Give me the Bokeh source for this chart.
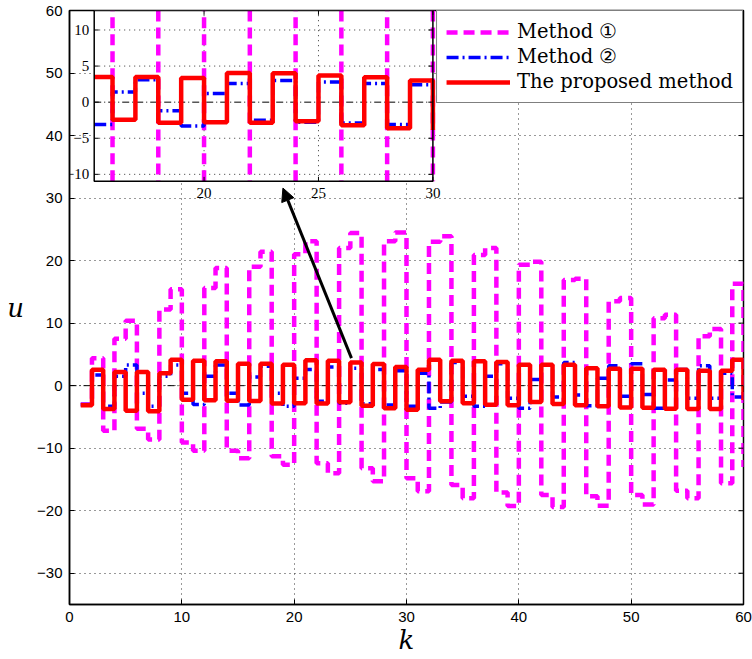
import numpy as np
from bokeh.plotting import figure
from bokeh.models import Range1d, FixedTicker, Arrow, NormalHead, Span
from bokeh.embed import file_html
from bokeh.resources import INLINE

# ---------------- data ----------------
k = list(range(1, 61))

u_method1 = [-3.0, 4.4, -7.2, 7.5, 10.4, -6.9, -8.6, 12.2, 15.4, -9.1,
             -10.4, 15.6, 18.8, -10.4, -11.6, 19.0, 21.4, -11.3, -12.65, 21.0,
             23.1, -12.4, -14.0, 22.0, 24.4, -13.2, -15.3, 23.1, 24.5, -14.8,
             -16.9, 23.0, 23.9, -15.9, -18.0, 20.9, 22.0, -17.1, -19.25, 19.35,
             19.8, -17.5, -19.4, 16.9, 17.1, -17.7, -19.2, 13.5, 14.0, -17.5,
             -19.0, 10.8, 11.35, -16.8, -18.0, 7.9, 9.05, -15.6, 16.3, -13.0]

u_method2 = [-3.0, 1.7, -3.3, 1.5, 3.3, -1.2, -3.3, 1.5, 3.3, -1.2,
             -3.0, 1.5, 3.3, -1.2, -3.1, 1.4, 3.1, -1.2, -3.3, 1.2,
             2.6, -2.5, 3.0, -2.8, 2.8, -2.9, 2.6, -3.1, 2.4, -3.3,
             2.0, -3.6, -2.6, 3.7, -1.7, -3.3, 1.5, 3.5, -2.0, -3.6,
             1.0, 3.3, -1.8, 3.7, -1.5, -3.2, 1.2, 3.2, -1.7, 3.5,
             -1.4, -3.6, 0.9, 2.6, -2.0, 3.2, -2.0, 2.0, -1.8, -2.0]

u_proposed = [-3.15, 2.55, -3.75, 2.2, -4.0, 2.2, -4.1, 2.0, 4.15, -2.25,
              4.0, -2.35, 3.9, -2.4, 3.5, -2.45, 3.5, -2.85, 3.35, -2.8,
              4.05, -2.85, 4.0, -2.65, 3.7, -3.2, 3.45, -3.6, 3.0, -3.85,
              2.55, 4.15, -2.5, 4.0, -2.8, 3.9, -3.05, 3.8, -3.15, 3.35,
              -2.6, 3.35, -2.95, 3.35, -3.15, 2.8, -3.3, 2.7, -3.5, 2.7,
              -3.55, 2.55, -3.7, 2.55, -3.75, 2.4, -3.75, 2.4, 4.15, -2.3]

x_ticks = [0, 10, 20, 30, 40, 50, 60]
y_ticks = [-30, -20, -10, 0, 10, 20, 30, 40, 50, 60]
inset_x_ticks = [20, 25, 30]
inset_y_ticks = [-10, -5, 0, 5, 10]

# axis limits
x_lim = (0, 60)
y_lim = (-35, 60)
inset_x_lim = (15.2, 30)
inset_y_lim = (-10.95, 12.7)
# where the inset sits, in main-axes data units
inset_target_x = (2.2, 32.35)
inset_target_y = (32.7, 60)

MAGENTA = "#ff00ff"
BLUE = "#0000ff"
RED = "#ff0000"


def lab(v):
    return str(v).replace("-", "\u2212")


def stairs_path(xs, ys):
    px, py = [xs[0]], [ys[0]]
    for i in range(1, len(xs)):
        px += [xs[i], xs[i]]
        py += [ys[i - 1], ys[i]]
    return px, py


def clip_path(px, py, x0, x1, y0, y1):
    ox, oy = [], []
    last = None
    for i in range(len(px) - 1):
        ax, ay, bx, by = px[i], py[i], px[i + 1], py[i + 1]
        if ay == by:
            if not (y0 <= ay <= y1):
                continue
            lo, hi = max(min(ax, bx), x0), min(max(ax, bx), x1)
            if lo > hi:
                continue
            seg = [(lo, ay), (hi, ay)] if ax <= bx else [(hi, ay), (lo, ay)]
        else:
            if not (x0 <= ax <= x1):
                continue
            lo, hi = max(min(ay, by), y0), min(max(ay, by), y1)
            if lo > hi:
                continue
            seg = [(ax, lo), (ax, hi)] if ay <= by else [(ax, hi), (ax, lo)]
        if last is not None and last == seg[0]:
            ox.append(seg[1][0]); oy.append(seg[1][1])
        else:
            if ox:
                ox.append(np.nan); oy.append(np.nan)
            ox += [seg[0][0], seg[1][0]]
            oy += [seg[0][1], seg[1][1]]
        last = seg[1]
    return np.array(ox, dtype=float), np.array(oy, dtype=float)


TICK_FONT = "Liberation Sans"
TICK_SIZE = "15px"
M_WIDTH, M_DASH = 4.5, "11 6"
B_WIDTH, B_DASH = 3.5, "12 4 2 4"
R_WIDTH = 4.5

p = figure(width=752, height=659, output_backend="svg", toolbar_location=None,
           x_range=Range1d(*x_lim), y_range=Range1d(*y_lim),
           min_border_left=69, min_border_right=9, min_border_top=10,
           min_border_bottom=55, background_fill_color="white",
           border_fill_color="white")

p.outline_line_color = "black"
p.outline_line_width = 1.5

for ax in (p.xaxis[0], p.yaxis[0]):
    ax.major_tick_in = 5
    ax.major_tick_out = 0
    ax.minor_tick_in = 0
    ax.minor_tick_out = 0
    ax.axis_line_color = "black"
    ax.axis_line_width = 1.5
    ax.major_label_text_font = TICK_FONT
    ax.major_label_text_font_size = TICK_SIZE
    ax.major_label_text_color = "black"
    ax.major_label_standoff = 7
    ax.axis_label_text_font = "DejaVu Serif"
    ax.axis_label_text_font_style = "italic"
    ax.axis_label_text_font_size = "26px"
    ax.axis_label_text_color = "black"

p.xaxis[0].ticker = FixedTicker(ticks=x_ticks)
p.yaxis[0].ticker = FixedTicker(ticks=y_ticks)
p.xaxis[0].major_label_overrides = {t: lab(t) for t in x_ticks}
p.yaxis[0].major_label_overrides = {t: lab(t) for t in y_ticks}
p.xaxis[0].axis_label = "k"
p.xaxis[0].axis_label_standoff = 0
p.yaxis[0].axis_label = "u"
p.yaxis[0].axis_label_orientation = "horizontal"
p.yaxis[0].axis_label_standoff = 10

p.xgrid.ticker = FixedTicker(ticks=x_ticks)
p.ygrid.ticker = FixedTicker(ticks=y_ticks)
for g in (p.xgrid[0], p.ygrid[0]):
    g.grid_line_color = "#333333"
    g.grid_line_dash = "1 4"
    g.grid_line_width = 1

p.add_layout(Span(location=0, dimension="width", line_color="black",
                  line_width=1, line_dash="7 3 1 3", level="underlay"))

p.step(x=k, y=u_method1, mode="after", line_color=MAGENTA, line_width=M_WIDTH,
       line_dash=M_DASH, legend_label="Method \u2460")
p.step(x=k, y=u_method2, mode="after", line_color=BLUE, line_width=B_WIDTH,
       line_dash=B_DASH, legend_label="Method \u2461")
p.step(x=k, y=u_proposed, mode="after", line_color=RED, line_width=R_WIDTH,
       legend_label="The proposed method")

# mirrored tick marks on the top and right edges of the box
tick_len_x, tick_len_y = 0.45, 0.8
p.segment(x0=x_ticks, x1=x_ticks, y0=[y_lim[1]] * len(x_ticks),
          y1=[y_lim[1] - tick_len_y] * len(x_ticks), line_color="black", line_width=1)
p.segment(x0=[x_lim[1]] * len(y_ticks), x1=[x_lim[1] - tick_len_x] * len(y_ticks),
          y0=y_ticks, y1=y_ticks, line_color="black", line_width=1)

# ---------------- inset ----------------
sub = p.subplot(x_source=Range1d(*inset_x_lim), y_source=Range1d(*inset_y_lim),
                x_target=Range1d(*inset_target_x), y_target=Range1d(*inset_target_y))

sub.quad(left=[inset_x_lim[0]], right=[inset_x_lim[1]],
         bottom=[inset_y_lim[0]], top=[inset_y_lim[1]],
         fill_color="white", line_color=None)

gx = [t for t in inset_x_ticks if inset_x_lim[0] < t < inset_x_lim[1]]
gy = [t for t in inset_y_ticks if t != 0]
sub.segment(x0=gx, x1=gx, y0=[inset_y_lim[0]] * len(gx), y1=[inset_y_lim[1]] * len(gx),
            line_color="#333333", line_dash="1 4", line_width=1)
sub.segment(x0=[inset_x_lim[0]] * len(gy), x1=[inset_x_lim[1]] * len(gy), y0=gy, y1=gy,
            line_color="#333333", line_dash="1 4", line_width=1)
sub.line(x=list(inset_x_lim), y=[0, 0], line_color="black", line_width=1,
         line_dash="7 3 1 3")

for ys, col, lw, dash in ((u_method1, MAGENTA, M_WIDTH, M_DASH),
                          (u_method2, BLUE, B_WIDTH, B_DASH),
                          (u_proposed, RED, R_WIDTH, "solid")):
    sx, sy = stairs_path(k, ys)
    cx, cy = clip_path(sx, sy, inset_x_lim[0], inset_x_lim[1],
                       inset_y_lim[0], inset_y_lim[1])
    sub.line(x=cx, y=cy, line_color=col, line_width=lw, line_dash=dash)

# inset frame and ticks
sub.quad(left=[inset_x_lim[0]], right=[inset_x_lim[1]],
         bottom=[inset_y_lim[0]], top=[inset_y_lim[1]],
         fill_color=None, line_color="black", line_width=1.5)
tlx, tly = 0.2, 0.6
sub.segment(x0=inset_x_ticks, x1=inset_x_ticks,
            y0=[inset_y_lim[0]] * 3, y1=[inset_y_lim[0] + tly] * 3, line_color="black")
sub.segment(x0=inset_x_ticks, x1=inset_x_ticks,
            y0=[inset_y_lim[1]] * 3, y1=[inset_y_lim[1] - tly] * 3, line_color="black")
sub.segment(x0=[inset_x_lim[0]] * 5, x1=[inset_x_lim[0] + tlx] * 5,
            y0=inset_y_ticks, y1=inset_y_ticks, line_color="black")
sub.segment(x0=[inset_x_lim[1]] * 5, x1=[inset_x_lim[1] - tlx] * 5,
            y0=inset_y_ticks, y1=inset_y_ticks, line_color="black")
sub.text(x=inset_x_ticks, y=[inset_y_lim[0]] * 3, text=[lab(t) for t in inset_x_ticks],
         text_align="center", text_baseline="top", y_offset=7,
         text_font=TICK_FONT, text_font_size=TICK_SIZE, text_color="black")
sub.text(x=[inset_x_lim[0]] * 5, y=inset_y_ticks, text=[lab(t) for t in inset_y_ticks],
         text_align="right", text_baseline="middle", x_offset=-5,
         text_font=TICK_FONT, text_font_size=TICK_SIZE, text_color="black")

# arrow from the main curve to the zoomed view
p.add_layout(Arrow(end=NormalHead(size=13, fill_color="black", line_color="black"),
                   x_start=25.1, y_start=4.4, x_end=19.0, y_end=31.6,
                   line_color="black", line_width=3))

# legend
lg = p.legend[0]
lg.location = "top_right"
lg.margin = 0
lg.padding = 9
lg.spacing = 2
lg.glyph_width = 64
lg.glyph_height = 22
lg.label_height = 22
lg.label_standoff = 7
lg.label_text_font = "DejaVu Serif"
lg.label_text_font_size = "19.5px"
lg.label_text_color = "black"
lg.border_line_color = "black"
lg.border_line_width = 1.5
lg.background_fill_color = "white"
lg.background_fill_alpha = 1.0

open("out.html", "w").write(file_html(p, INLINE))
